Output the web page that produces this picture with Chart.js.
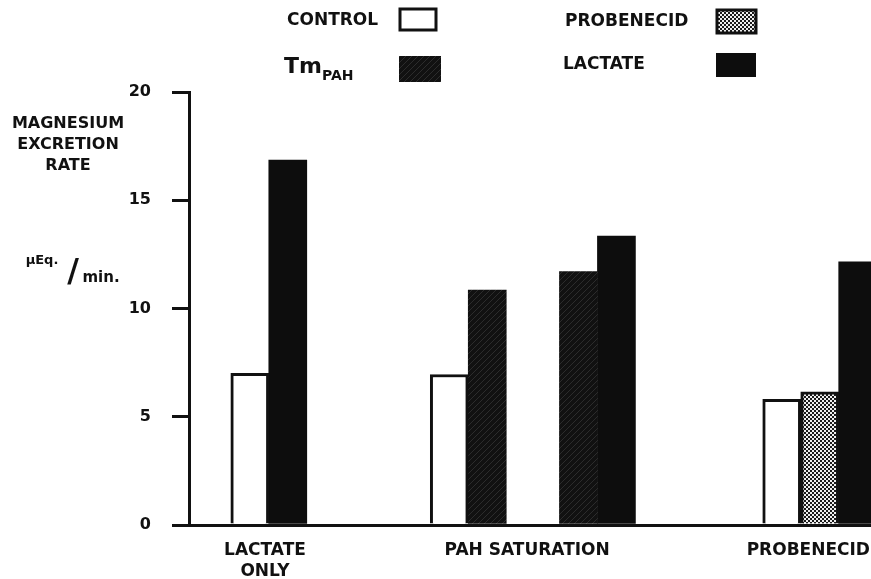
<!DOCTYPE html>
<html>
<head>
<meta charset="utf-8">
<script src="https://cdn.jsdelivr.net/npm/chart.js@4.4.0/dist/chart.umd.min.js"></script>
<style>
  html, body { margin: 0; padding: 0; background: #fff; }
  #wrap { width: 871px; height: 579px; position: relative; }
</style>
</head>
<body>
<div id="wrap"><canvas id="mgChart"></canvas></div>
<script>
// 値は図から読み取り（µEq./min.）
const groupLabels = [['LACTATE', 'ONLY'], 'PAH SATURATION', 'PROBENECID'];
const groupPos = [2.0, 8.9, 16.3];

// バーの横位置（x軸上の値）
const controlPos = [1.6, 6.85, 15.6];
const tmpahPos = [7.85, 10.25];
const probenecidPos = [16.6];
const lactatePos = [2.6, 11.25, 17.6];

const controlValues = [7.0, 6.95, 5.8];
const tmpahValues = [10.85, 11.7];
const probenecidValues = [6.15];
const lactateValues = [16.85, 13.35, 12.15];

const yTicks = [0, 5, 10, 15, 20];

const FONT = '"DejaVu Sans", sans-serif';
const INK = '#111';

function toPoints(xs, ys) {
    return xs.map((x, i) => ({ x: x, y: ys[i] }));
}

// 斜線パターン（TmPAH）
function makeHatch() {
    const c = document.createElement('canvas');
    c.width = 6; c.height = 6;
    const g = c.getContext('2d');
    g.fillStyle = '#111111';
    g.fillRect(0, 0, 6, 6);
    g.strokeStyle = '#2c2c2c';
    g.lineWidth = 1;
    g.beginPath();
    g.moveTo(0, 6); g.lineTo(6, 0);
    g.stroke();
    return g.createPattern(c, 'repeat');
}

// 網点パターン（probenecid）
function makeCheck() {
    const c = document.createElement('canvas');
    c.width = 4; c.height = 4;
    const g = c.getContext('2d');
    g.fillStyle = '#eeeeee';
    g.fillRect(0, 0, 4, 4);
    g.fillStyle = '#1a1a1a';
    g.fillRect(0, 0, 2, 2);
    g.fillRect(2, 2, 2, 2);
    return g.createPattern(c, 'repeat');
}

const hatch = makeHatch();
const check = makeCheck();

// 凡例と縦軸の見出しを描く
const annotate = {
    id: 'annotate',
    afterDraw(chart) {
        const ctx = chart.ctx;
        ctx.save();
        ctx.fillStyle = INK;
        ctx.textBaseline = 'middle';

        // y軸見出し
        ctx.textAlign = 'center';
        ctx.font = 'bold 16px ' + FONT;
        ctx.fillText('MAGNESIUM', 68, 124);
        ctx.fillText('EXCRETION', 68, 145);
        ctx.fillText('RATE', 68, 166);

        ctx.font = 'bold 13px ' + FONT;
        ctx.fillText('µEq.', 42, 261);
        ctx.font = 'bold 32px ' + FONT;
        ctx.fillText('/', 73, 273);
        ctx.font = 'bold 15px ' + FONT;
        ctx.fillText('min.', 101, 278);

        // 凡例
        ctx.textAlign = 'left';
        ctx.font = 'bold 17px ' + FONT;
        ctx.fillText('CONTROL', 287, 21);
        ctx.fillText('PROBENECID', 565, 22);
        ctx.fillText('LACTATE', 563, 65);
        ctx.textBaseline = 'alphabetic';
        ctx.font = 'bold 22px ' + FONT;
        ctx.fillText('Tm', 284, 73);
        ctx.font = 'bold 14px ' + FONT;
        ctx.fillText('PAH', 322, 80);

        ctx.lineWidth = 3;
        ctx.strokeStyle = INK;
        ctx.fillStyle = '#fff';
        ctx.fillRect(400, 9, 36, 21);
        ctx.strokeRect(400, 9, 36, 21);

        ctx.fillStyle = hatch;
        ctx.fillRect(399, 56, 42, 26);

        ctx.fillStyle = check;
        ctx.fillRect(717, 10, 39, 23);
        ctx.strokeRect(717, 10, 39, 23);

        ctx.fillStyle = '#0d0d0d';
        ctx.fillRect(716, 53, 40, 24);
        ctx.restore();
    }
};

const ctx = document.getElementById('mgChart').getContext('2d');
new Chart(ctx, {
    type: 'bar',
    data: {
        datasets: [
            {
                label: 'CONTROL',
                data: toPoints(controlPos, controlValues),
                backgroundColor: '#ffffff',
                borderColor: INK,
                borderWidth: 3,
                borderSkipped: 'bottom'
            },
            {
                label: 'TmPAH',
                data: toPoints(tmpahPos, tmpahValues),
                backgroundColor: hatch,
                borderWidth: 0
            },
            {
                label: 'PROBENECID',
                data: toPoints(probenecidPos, probenecidValues),
                backgroundColor: check,
                borderColor: INK,
                borderWidth: 3,
                borderSkipped: 'bottom'
            },
            {
                label: 'LACTATE',
                data: toPoints(lactatePos, lactateValues),
                backgroundColor: '#0d0d0d',
                borderWidth: 0
            }
        ]
    },
    options: {
        responsive: true,
        maintainAspectRatio: false,
        animation: false,
        grouped: false,
        barPercentage: 1,
        categoryPercentage: 1,
        layout: { padding: { top: 92, left: 0, right: 0, bottom: 0 } },
        plugins: {
            legend: { display: false },
            tooltip: { enabled: false }
        },
        scales: {
            x: {
                type: 'linear',
                min: 0,
                max: 17.95,
                offset: false,
                grid: { display: false },
                border: { display: true, color: INK, width: 3 },
                afterBuildTicks: (scale) => {
                    scale.ticks = groupPos.map(v => ({ value: v }));
                },
                afterFit: (scale) => {
                    scale.height = 54;
                    scale.paddingLeft = 0;
                    scale.paddingRight = 0;
                },
                ticks: {
                    autoSkip: false,
                    maxRotation: 0,
                    padding: 7,
                    color: INK,
                    font: { family: FONT, size: 17, weight: 'bold', lineHeight: 1.25 },
                    callback: (value, index) => groupLabels[index]
                }
            },
            y: {
                min: 0,
                max: 20,
                afterBuildTicks: (scale) => {
                    scale.ticks = yTicks.map(v => ({ value: v }));
                },
                afterFit: (scale) => {
                    scale.width = 189;
                    scale.paddingTop = 0;
                    scale.paddingBottom = 0;
                },
                grid: {
                    drawOnChartArea: false,
                    drawTicks: true,
                    tickLength: 17,
                    color: INK,
                    lineWidth: 3
                },
                border: { display: true, color: INK, width: 3 },
                ticks: {
                    padding: 21,
                    color: INK,
                    font: { family: FONT, size: 16, weight: 'bold' }
                }
            }
        }
    },
    plugins: [annotate]
});
</script>
</body>
</html>
